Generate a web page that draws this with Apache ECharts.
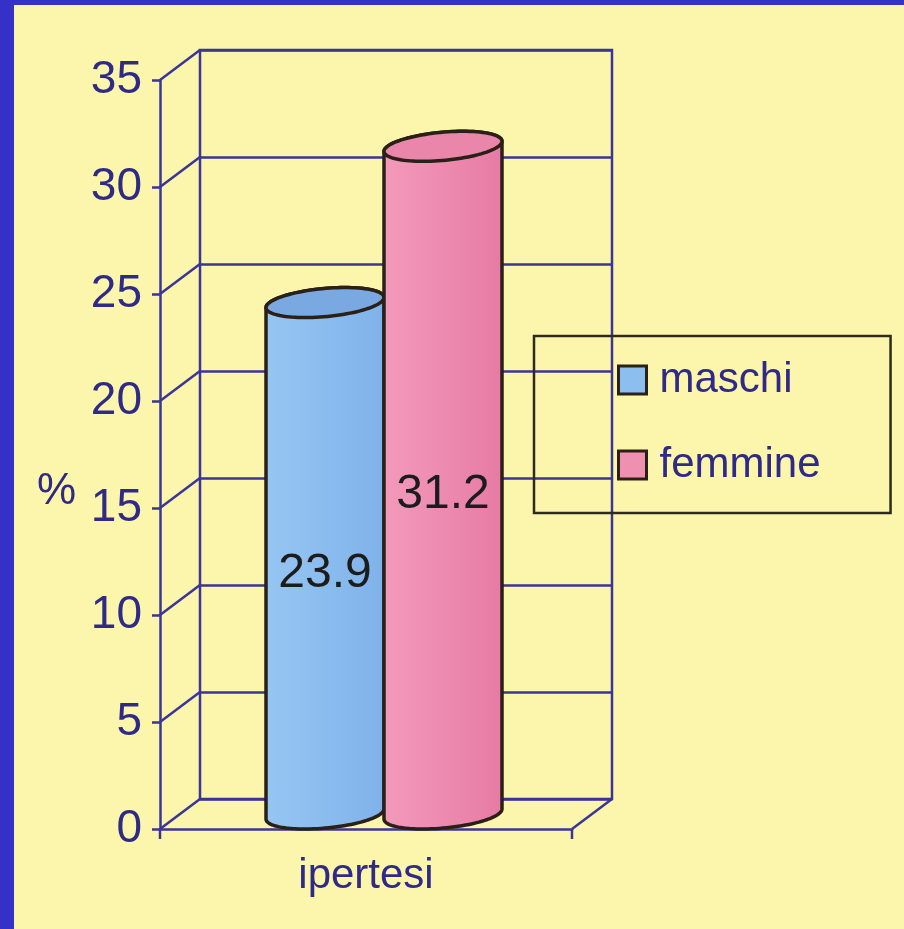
<!DOCTYPE html>
<html><head><meta charset="utf-8">
<script src="https://cdn.jsdelivr.net/npm/echarts@6/dist/echarts.min.js"></script>
<style>html,body{margin:0;padding:0;background:#fcf5ac}#c{width:904px;height:929px}</style>
</head><body><div id="c"></div>
<script>
const categories = ['ipertesi'];
const maschi = [23.9];
const femmine = [31.2];
const seriesNames = ['maschi', 'femmine'];
const yTicks = [0, 5, 10, 15, 20, 25, 30, 35];
const yMin = 0, yMax = 35, yStep = 5;
const yName = '%';

const BG = '#fcf5ac', BLUE = '#3430c8';
const LINE = '#3b3597', TEXT = '#2e2a85', OUTLINE = '#2a2018';
const FONT = '"Liberation Sans", Arial, sans-serif';
const DX = 40, DY = 30;
const FRONT = {left: 160, top: 80, width: 412, height: 749};
const BACK = {left: FRONT.left + DX, top: FRONT.top - DY, width: FRONT.width, height: FRONT.height};
const BAR_HALF = 59, BAR_SHIFT = 18;

function cylRender(side, bodyA, bodyB, topFill) {
  return function (params, api) {
    const v = api.value(1);
    const c = api.coord([api.value(0), v]);
    const c0 = api.coord([api.value(0), yMin]);
    const a = DX / 2, b = DY / 2;
    const R = Math.sqrt(BAR_HALF * BAR_HALF - a * a);
    const cx = c[0] + BAR_SHIFT + side * BAR_HALF;
    const yTop = c[1] - b, yBot = c0[1] - b;
    const tr = Math.atan2(a, R);
    const N = 48, pts = [], topPts = [];
    for (let i = 0; i <= N; i++) { const t = tr + Math.PI * i / N; pts.push([cx + R * Math.cos(t) + a * Math.sin(t), yTop - b * Math.sin(t)]); }
    for (let i = 0; i <= N; i++) { const t = tr + Math.PI + Math.PI * i / N; pts.push([cx + R * Math.cos(t) + a * Math.sin(t), yBot - b * Math.sin(t)]); }
    for (let i = 0; i < 96; i++) { const t = 2 * Math.PI * i / 96; topPts.push([cx + R * Math.cos(t) + a * Math.sin(t), yTop - b * Math.sin(t)]); }
    return {type: 'group', children: [
      {type: 'polygon', shape: {points: pts}, style: {fill: {type: 'linear', x: 0, y: 0, x2: 1, y2: 0, colorStops: [{offset: 0, color: bodyA}, {offset: 1, color: bodyB}]}, stroke: OUTLINE, lineWidth: 3.5, lineJoin: 'round'}},
      {type: 'polygon', shape: {points: topPts}, style: {fill: topFill, stroke: OUTLINE, lineWidth: 3.5}},
      {type: 'text', x: cx, y: (c[1] + c0[1]) / 2, style: {text: String(v), fill: '#1c1c1c', font: '48px ' + FONT, align: 'center', verticalAlign: 'middle'}}
    ]};
  };
}

const chart = echarts.init(document.getElementById('c'));
chart.setOption({
  backgroundColor: BG,
  animation: false,
  graphic: [
    {type: 'rect', shape: {x: 0, y: 0, width: 14, height: 929}, style: {fill: BLUE}, z: -1},
    {type: 'rect', shape: {x: 0, y: 0, width: 904, height: 5}, style: {fill: BLUE}, z: -1},
    {type: 'text', left: 37, top: 470, style: {text: yName, font: '44px ' + FONT, fill: TEXT}}
  ],
  grid: [
    {left: BACK.left, top: BACK.top, width: BACK.width, height: BACK.height, show: true, borderColor: LINE, borderWidth: 2.5},
    {left: FRONT.left, top: FRONT.top, width: FRONT.width, height: FRONT.height}
  ],
  xAxis: [
    {gridIndex: 0, type: 'category', data: categories, show: false},
    {gridIndex: 1, type: 'category', data: categories,
     axisLine: {lineStyle: {color: LINE, width: 2.5}},
     axisTick: {show: false},
     axisLabel: {color: TEXT, fontSize: 42, fontFamily: FONT, margin: 26}}
  ],
  yAxis: [
    {gridIndex: 0, type: 'value', min: yMin, max: yMax, interval: yStep,
     axisLine: {show: false}, axisTick: {show: false}, axisLabel: {show: false},
     splitLine: {lineStyle: {color: LINE, width: 2.5}}},
    {gridIndex: 1, type: 'value', min: yMin, max: yMax, interval: yStep,
     axisLine: {show: true, lineStyle: {color: LINE, width: 2.5}},
     axisTick: {show: true, length: 8, lineStyle: {color: LINE, width: 2.5}},
     axisLabel: {color: TEXT, fontSize: 46, fontFamily: FONT, margin: 18},
     splitLine: {show: false}}
  ],
  legend: {
    data: seriesNames, orient: 'vertical', left: 534, top: 336,
    padding: [23, 70, 27, 83], itemGap: 43, itemWidth: 28, itemHeight: 28,
    borderColor: '#2e2a1e', borderWidth: 2.5, icon: 'rect', selectedMode: false,
    itemStyle: {borderColor: OUTLINE, borderWidth: 3},
    textStyle: {color: TEXT, fontSize: 42, fontFamily: FONT, padding: [0, 0, 0, 8]}
  },
  series: [
    {type: 'custom', xAxisIndex: 1, yAxisIndex: 1, silent: true, z: 1,
     data: yTicks.map(v => [0, v]),
     renderItem: function (params, api) {
       const cs = params.coordSys;
       const v = api.value(1);
       const y = api.coord([0, v])[1];
       const st = {stroke: LINE, lineWidth: 2.5};
       const ch = [{type: 'line', shape: {x1: cs.x, y1: y, x2: cs.x + DX, y2: y - DY}, style: st}];
       if (v === yMin) {
         ch.push({type: 'line', shape: {x1: cs.x + cs.width, y1: y, x2: cs.x + cs.width + DX, y2: y - DY}, style: st});
         ch.push({type: 'line', shape: {x1: cs.x, y1: y, x2: cs.x, y2: y + 10}, style: st});
         ch.push({type: 'line', shape: {x1: cs.x + cs.width, y1: y, x2: cs.x + cs.width, y2: y + 10}, style: st});
       }
       return {type: 'group', children: ch};
     }},
    {name: seriesNames[0], type: 'custom', xAxisIndex: 1, yAxisIndex: 1, z: 3,
     itemStyle: {color: '#8cbef0'},
     data: maschi.map((v, i) => [i, v]),
     renderItem: cylRender(-1, '#96c6f2', '#7fb2ea', '#7aa8e0')},
    {name: seriesNames[1], type: 'custom', xAxisIndex: 1, yAxisIndex: 1, z: 3,
     itemStyle: {color: '#f090b0'},
     data: femmine.map((v, i) => [i, v]),
     renderItem: cylRender(1, '#f49abb', '#e67ba3', '#ea86aa')}
  ]
});
</script></body></html>
